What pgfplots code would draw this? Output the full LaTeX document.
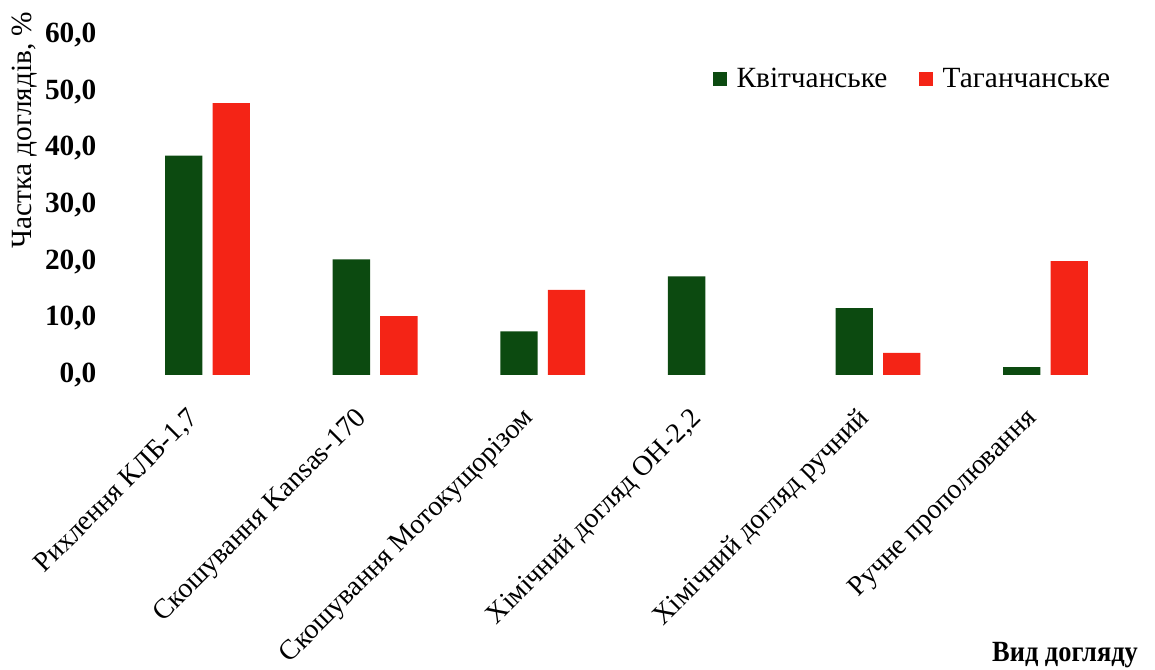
\documentclass[border=0pt]{standalone}
\usepackage{fontspec}
\setmainfont{Liberation Serif}
\usepackage{pgfplots}
\pgfplotsset{compat=1.18}
\definecolor{kvit}{RGB}{12,74,16}
\definecolor{tahan}{RGB}{244,36,22}
\begin{document}
\begin{tikzpicture}
\path[use as bounding box] (0,0) rectangle (866.25pt,502.5pt);
\begin{axis}[
  at={(92.8pt,221.25pt)}, anchor=south west,
  scale only axis, width=754.2pt, height=255pt,
  xmin=-0.5, xmax=5.5, ymin=0, ymax=60,
  ybar, bar width=28pt,
  axis line style={draw=none}, tick style={draw=none},
  ytick={0,10,...,60},
  /pgf/number format/.cd, use comma, fixed, fixed zerofill, precision=1, assume math mode=true,
  /pgfplots/.cd,
  yticklabel style={font=\fontsize{22}{26}\selectfont\bfseries, xshift=-17pt},
  xtick={0,...,5},
  xticklabels={{Рихлення КЛБ-1,7}, {Скошування Kansas-170}, {Скошування Мотокущорізом}, {Хімічний догляд ОН-2,2}, {Хімічний догляд ручний}, {Ручне прополювання}},
  xticklabel style={font=\fontsize{21}{25}\selectfont, xshift=-16pt, yshift=-14pt, rotate=45, anchor=north east},
  legend columns=2,
  legend style={at={(0.582,0.871)}, anchor=west, draw=none, fill=none,
    font=\fontsize{22}{26}\selectfont,
    /tikz/every odd column/.append style={column sep=5pt},
    /tikz/every even column/.append style={column sep=22pt}},
  legend image code/.code={\fill[#1] (0pt,-5pt) rectangle (10.5pt,5.5pt);},
]
% Квітчанське
\addplot[fill=kvit, draw=none, bar shift=-17.8pt] coordinates {(0,38.7) (1,20.4) (2,7.7) (3,17.4) (4,11.8) (5,1.4)};
% Таганчанське (no share for ОН-2,2)
\addplot[fill=tahan, draw=none, bar shift=17.8pt] coordinates {(0,48.0) (1,10.4) (2,15.0) (4,3.9) (5,20.1)};
\legend{Квітчанське, Таганчанське}
\end{axis}
\node[rotate=90, font=\fontsize{22}{26}\selectfont] at (18.75pt,405pt) {Частка доглядів, \%};
\node[font=\fontsize{22}{26}\selectfont\bfseries, xscale=0.9] at (798.75pt,11.25pt) {Вид догляду};
\end{tikzpicture}
\end{document}
